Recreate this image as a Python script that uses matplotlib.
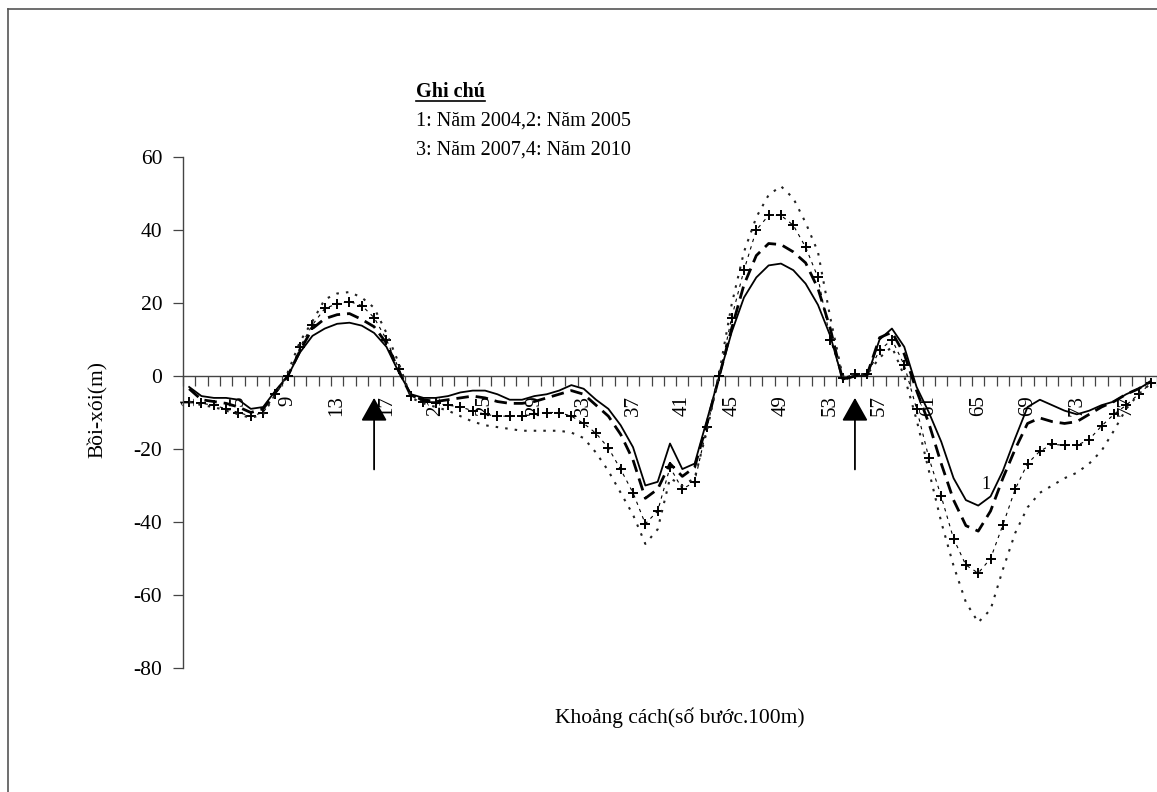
import matplotlib
matplotlib.use("Agg")
import matplotlib.pyplot as plt
from matplotlib.lines import Line2D
import numpy as np

plt.rcParams['font.family'] = ['Liberation Serif', 'DejaVu Serif']
plt.rcParams['axes.unicode_minus'] = False

# ---------------- data ----------------
categories = list(range(1, 80))
tick_labels = [str(c) for c in range(1, 78, 4)]

s2004 = [-3, -5.5, -6, -6, -6.5, -9, -8.5, -4, 0, 6.5,
         11, 13, 14.3, 14.6, 13.8, 11.8, 8, 1, -5, -6,
         -6, -5.5, -4.5, -4, -4, -5, -6.5, -6.5, -5.5, -5,
         -4, -2.5, -3.5, -6.5, -9, -13.5, -19.5, -30, -29, -18.5,
         -25.5, -24, -12, 0, 12, 21.5, 27, 30.3, 30.8, 29,
         25.3, 19.5, 11, -1, 0, 0, 10, 13, 8, -3,
         -10, -18, -28, -34, -35.5, -33, -26, -17, -8.5, -6.5,
         -8, -9.5, -10.5, -9.5, -8, -7, -5, -3.5, -1.5]

s2005 = [-3.5, -6.5, -7, -7.5, -8.5, -10, -9, -4.5, 0, 7,
         13, 15.7, 16.8, 17.1, 15.5, 13.5, 9, 1.5, -5.5, -6.5,
         -7, -6.5, -6, -5.5, -6, -7, -7.5, -7.5, -7, -6,
         -5, -4, -5, -8, -11, -16, -23, -33.5, -31, -24,
         -27.5, -25, -13, 0, 13, 25, 33, 36.3, 36, 34,
         31, 24, 13, -1, 0, 0.5, 10.5, 12, 6, -4,
         -13, -24, -34, -41, -42.5, -37, -28, -20, -13, -11.5,
         -12.5, -13, -12.5, -10.5, -8.5, -7, -5, -3.5, -1.5]

s2007 = [-7, -7.5, -8, -9, -10, -11, -10, -5, 0, 8,
         14, 18.5, 19.8, 20.4, 19.3, 16, 10, 2, -5.5, -7,
         -7.5, -8, -8.5, -9.5, -10.5, -11, -11, -11, -10.5, -10,
         -10, -11, -13, -15.7, -19.7, -25.6, -32, -40.5, -37, -25,
         -31, -29, -14, 0, 16, 29, 40, 44, 44, 41.3,
         35.3, 27, 10, -0.5, 0.5, 0.5, 7, 10, 3, -9,
         -22.5, -33, -44.6, -51.8, -54, -50, -40.8, -31, -24, -20.6,
         -18.7, -19, -19, -17.4, -13.7, -10.5, -8, -5, -2]

s2010 = [-7, -8, -8.5, -9.5, -10.5, -11.5, -10.5, -5, 1, 9.5,
         15, 21, 22.6, 23, 21.5, 18.7, 11.8, 3.5, -6, -7.5,
         -8.5, -9.5, -11, -12.5, -13.5, -14, -14.5, -15, -15, -15,
         -15, -15.5, -17, -21, -26, -32, -38, -46, -42, -28,
         -30, -28, -15, 1, 19.6, 34, 43.5, 49.6, 52, 48.7,
         42, 34, 16, 0, 0.5, 0.5, 5, 8, 0, -12,
         -26, -40, -52, -62, -67.5, -64, -53, -43, -36, -32,
         -30, -28, -26.5, -24, -20.5, -15, -9, -5, -2]

arrow_x = [16, 55]
arrow_from, arrow_to = -25.6, -6.0

# ---------------- figure ----------------
W, H = 1157, 792
fig = plt.figure(figsize=(W / 100, H / 100), dpi=100)
ax = fig.add_axes([183 / W, 1 - 668 / H, (W - 183) / W, (668 - 157) / H])

ax.plot(categories, s2004, color='black', lw=1.3, zorder=4)
ax.plot(categories, s2005, color='black', lw=2.0, dashes=(4.5, 2.5), zorder=4)
ax.plot(categories, s2007, color='black', lw=0.8, dashes=(3, 4),
        marker='+', ms=7, mew=1.4, zorder=4)
ax.plot(categories, s2010, color='#222222', lw=1.5, dashes=(1.2, 3.4), zorder=4)

# arrows
for xa in arrow_x:
    ax.annotate('', xy=(xa, arrow_to), xytext=(xa, arrow_from),
                arrowprops=dict(arrowstyle='-|>,head_length=0.8,head_width=0.45',
                                mutation_scale=18, color='black', lw=1.3,
                                shrinkA=0, shrinkB=0), zorder=5)

ax.text(65.6, -29.6, '1', fontsize=13, ha='center', va='center', zorder=6)

# axes styling
ax.set_xlim(0.5, 0.5 + (W - 183) / 12.36)
ax.set_ylim(-80, 60)
ax.set_yticks(range(-80, 61, 20))
ax.set_xticks(range(1, 78, 4))
ax.set_xticklabels(tick_labels)
ax.set_xticks(np.arange(0.5, 80, 1), minor=True)
ax.tick_params(axis='x', which='major', length=0, pad=14, labelsize=15,
               labelrotation=90)
ax.tick_params(axis='x', which='minor', length=7, width=0.9, direction='out',
               color='#444444')
ax.tick_params(axis='y', which='major', length=7, width=0.9, direction='out',
               labelsize=15.5, pad=8, color='#444444')
for side in ['top', 'right']:
    ax.spines[side].set_visible(False)
ax.spines['bottom'].set_position(('data', 0))
ax.spines['bottom'].set_color('#444444')
ax.spines['left'].set_color('#444444')
ax.spines['bottom'].set_linewidth(1.0)
ax.spines['left'].set_linewidth(1.0)
ax.patch.set_visible(False)

# labels
fig.text(98 / W, 1 - 410 / H, 'Bồi-xói(m)', rotation=90, ha='center',
         va='center', fontsize=15.5)
fig.text(680 / W, 1 - 718 / H, 'Khoảng cách(số bước.100m)', ha='center',
         va='center', fontsize=15.5)

# note block
t0 = fig.text(416 / W, 1 - 92 / H, 'Ghi chú', ha='left', va='center',
              fontsize=14.5, fontweight='bold')
fig.text(416 / W, 1 - 121 / H, '1: Năm 2004,2: Năm 2005', ha='left',
         va='center', fontsize=14.5)
fig.text(416 / W, 1 - 150 / H, '3: Năm 2007,4: Năm 2010', ha='left',
         va='center', fontsize=14.5)
fig.canvas.draw()
bb = t0.get_window_extent()
fig.add_artist(Line2D([bb.x0 / W, bb.x1 / W], [1 - 101 / H, 1 - 101 / H],
                      transform=fig.transFigure, color='black', lw=1.2))

# scan frame
fig.add_artist(Line2D([8 / W, 1.0], [1 - 9 / H, 1 - 9 / H],
                      transform=fig.transFigure, color='#555555', lw=1.2))
fig.add_artist(Line2D([8 / W, 8 / W], [0, 1 - 9 / H],
                      transform=fig.transFigure, color='#555555', lw=1.2))

fig.savefig('out.png', dpi=100)
